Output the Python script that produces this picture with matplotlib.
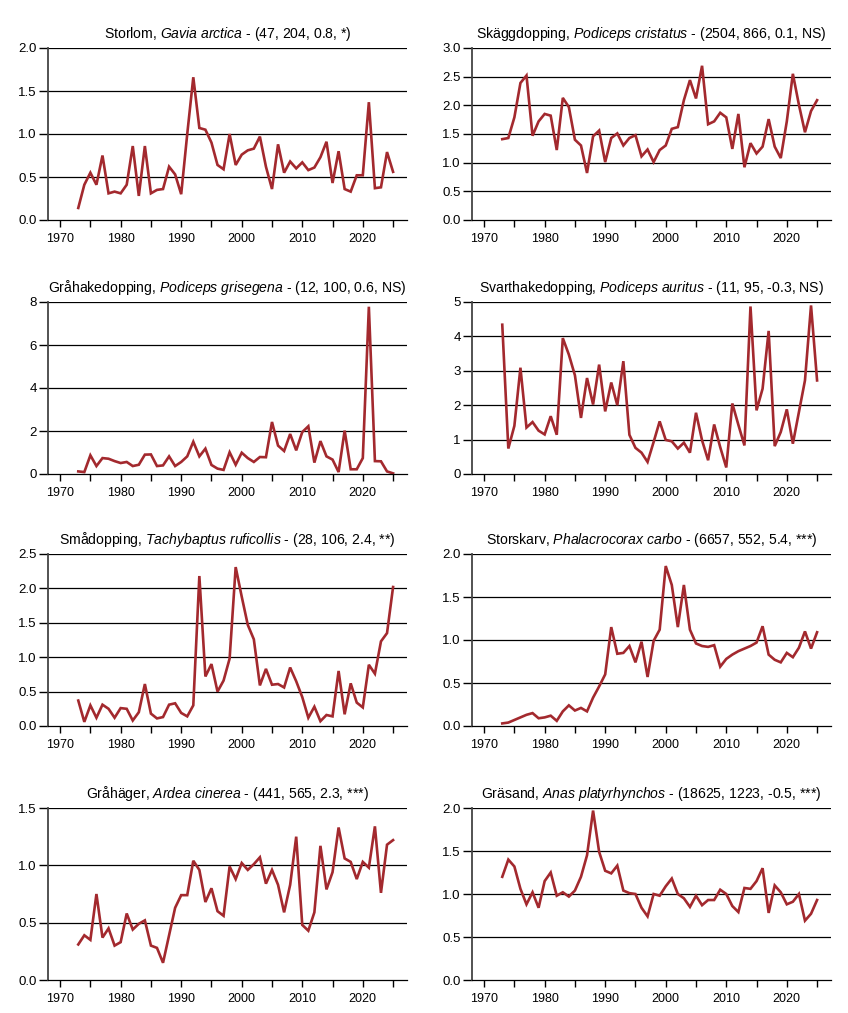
import numpy as np
import matplotlib
matplotlib.use('Agg')
import matplotlib.pyplot as plt

plt.rcParams['font.family'] = ['Liberation Sans', 'DejaVu Sans']
plt.rcParams['mathtext.fontset'] = 'custom'
plt.rcParams['mathtext.rm'] = 'Liberation Sans'
plt.rcParams['mathtext.it'] = 'Liberation Sans:italic'

years = np.arange(1973, 2026)

# index values per species (1973-2025)
storlom = [0.14, 0.41, 0.55, 0.41, 0.75, 0.31, 0.33, 0.31, 0.41, 0.86,
           0.28, 0.86, 0.31, 0.35, 0.36, 0.62, 0.53, 0.30, 1.00, 1.66,
           1.07, 1.05, 0.90, 0.64, 0.59, 1.00, 0.64, 0.76, 0.81, 0.83,
           0.97, 0.62, 0.36, 0.88, 0.55, 0.68, 0.60, 0.67, 0.58, 0.61,
           0.73, 0.91, 0.43, 0.80, 0.36, 0.33, 0.52, 0.52, 1.37, 0.37,
           0.38, 0.79, 0.56]
skaggdopping = [1.41, 1.43, 1.79, 2.39, 2.52, 1.47, 1.72, 1.85, 1.82, 1.22,
                2.13, 1.97, 1.40, 1.30, 0.82, 1.46, 1.56, 1.01, 1.43, 1.51,
                1.30, 1.43, 1.48, 1.11, 1.23, 1.01, 1.22, 1.30, 1.59, 1.62,
                2.09, 2.44, 2.12, 2.69, 1.67, 1.72, 1.87, 1.79, 1.24, 1.85,
                0.92, 1.34, 1.16, 1.28, 1.76, 1.28, 1.08, 1.72, 2.55, 2.01,
                1.53, 1.90, 2.09]
grahakedopping = [0.12, 0.09, 0.87, 0.37, 0.74, 0.71, 0.60, 0.51, 0.56, 0.37,
                  0.43, 0.90, 0.91, 0.37, 0.40, 0.82, 0.37, 0.56, 0.82, 1.50,
                  0.82, 1.18, 0.42, 0.25, 0.19, 1.01, 0.43, 0.99, 0.74, 0.56,
                  0.79, 0.78, 2.42, 1.32, 1.07, 1.86, 1.10, 1.95, 2.22, 0.53,
                  1.53, 0.82, 0.67, 0.09, 2.02, 0.22, 0.22, 0.74, 7.78, 0.60,
                  0.59, 0.12, 0.03]
svarthakedopping = [4.34, 0.74, 1.40, 3.09, 1.35, 1.51, 1.26, 1.15, 1.68, 1.14,
                    3.95, 3.47, 2.87, 1.63, 2.79, 2.02, 3.18, 1.82, 2.66, 2.00,
                    3.28, 1.14, 0.76, 0.62, 0.35, 0.93, 1.53, 0.99, 0.95, 0.74,
                    0.91, 0.62, 1.78, 0.98, 0.40, 1.44, 0.78, 0.19, 2.05, 1.43,
                    0.83, 4.87, 1.85, 2.48, 4.16, 0.81, 1.22, 1.88, 0.88, 1.80,
                    2.72, 4.90, 2.72]
smadopping = [0.37, 0.06, 0.30, 0.12, 0.31, 0.25, 0.12, 0.26, 0.25, 0.08,
              0.20, 0.61, 0.18, 0.11, 0.13, 0.31, 0.33, 0.19, 0.14, 0.30,
              2.18, 0.72, 0.90, 0.50, 0.66, 0.98, 2.31, 1.88, 1.47, 1.26,
              0.59, 0.83, 0.60, 0.61, 0.56, 0.85, 0.65, 0.42, 0.12, 0.28,
              0.07, 0.16, 0.14, 0.80, 0.17, 0.62, 0.34, 0.27, 0.89, 0.76,
              1.23, 1.35, 2.02]
storskarv = [0.03, 0.04, 0.07, 0.10, 0.13, 0.15, 0.09, 0.10, 0.12, 0.06,
             0.17, 0.24, 0.18, 0.21, 0.17, 0.33, 0.46, 0.60, 1.15, 0.84,
             0.85, 0.93, 0.74, 0.98, 0.57, 0.99, 1.12, 1.86, 1.64, 1.15,
             1.64, 1.12, 0.96, 0.93, 0.92, 0.94, 0.69, 0.78, 0.83, 0.87,
             0.90, 0.93, 0.97, 1.16, 0.83, 0.77, 0.74, 0.85, 0.80, 0.91,
             1.10, 0.90, 1.09]
grahager = [0.31, 0.39, 0.35, 0.75, 0.37, 0.45, 0.30, 0.33, 0.58, 0.44,
            0.49, 0.52, 0.30, 0.28, 0.15, 0.39, 0.63, 0.74, 0.74, 1.04,
            0.96, 0.68, 0.80, 0.60, 0.56, 0.99, 0.88, 1.02, 0.96, 1.01,
            1.07, 0.84, 0.96, 0.83, 0.59, 0.83, 1.25, 0.48, 0.43, 0.59,
            1.17, 0.79, 0.94, 1.33, 1.06, 1.03, 0.88, 1.03, 0.98, 1.34,
            0.76, 1.18, 1.22]
grasand = [1.20, 1.40, 1.32, 1.06, 0.88, 1.02, 0.84, 1.15, 1.25, 0.98,
           1.02, 0.97, 1.04, 1.20, 1.45, 1.97, 1.49, 1.27, 1.24, 1.33,
           1.04, 1.01, 1.00, 0.84, 0.74, 1.00, 0.98, 1.09, 1.18, 1.00,
           0.95, 0.85, 0.98, 0.87, 0.93, 0.93, 1.05, 1.00, 0.86, 0.79,
           1.07, 1.06, 1.15, 1.30, 0.78, 1.10, 1.02, 0.88, 0.91, 1.00,
           0.69, 0.77, 0.93]

titles = [
    r'Storlom, $\mathit{Gavia\ arctica}$ - (47, 204, 0.8, *)',
    r'Skäggdopping, $\mathit{Podiceps\ cristatus}$ - (2504, 866, 0.1, NS)',
    r'Gråhakedopping, $\mathit{Podiceps\ grisegena}$ - (12, 100, 0.6, NS)',
    r'Svarthakedopping, $\mathit{Podiceps\ auritus}$ - (11, 95, -0.3, NS)',
    r'Smådopping, $\mathit{Tachybaptus\ ruficollis}$ - (28, 106, 2.4, **)',
    r'Storskarv, $\mathit{Phalacrocorax\ carbo}$ - (6657, 552, 5.4, ***)',
    r'Gråhäger, $\mathit{Ardea\ cinerea}$ - (441, 565, 2.3, ***)',
    r'Gräsand, $\mathit{Anas\ platyrhynchos}$ - (18625, 1223, -0.5, ***)',
]
series = [storlom, skaggdopping, grahakedopping, svarthakedopping,
          smadopping, storskarv, grahager, grasand]
yticks = [
    [0, 0.5, 1.0, 1.5, 2.0],
    [0, 0.5, 1.0, 1.5, 2.0, 2.5, 3.0],
    [0, 2, 4, 6, 8],
    [0, 1, 2, 3, 4, 5],
    [0, 0.5, 1.0, 1.5, 2.0, 2.5],
    [0, 0.5, 1.0, 1.5, 2.0],
    [0, 0.5, 1.0, 1.5],
    [0, 0.5, 1.0, 1.5, 2.0],
]
yfmt = ['%.1f', '%.1f', '%d', '%d', '%.1f', '%.1f', '%.1f', '%.1f']

W, H = 848, 1013
fig = plt.figure(figsize=(W / 100, H / 100), dpi=100)

lefts = [48, 472]
bottoms = [220, 474, 726, 980]
aw, ah = 359, 172

for i, (vals, title) in enumerate(zip(series, titles)):
    r, c = divmod(i, 2)
    ax = fig.add_axes([lefts[c] / W, 1 - bottoms[r] / H, aw / W, ah / H])
    ax.plot(years, vals, color='#a3292e', lw=1.9, solid_joinstyle='miter')
    ax.set_xlim(1968, 2027.3)
    ax.set_ylim(0, yticks[i][-1])
    ax.set_yticks(yticks[i])
    ax.set_yticklabels([yfmt[i] % v for v in yticks[i]])
    xt = np.arange(1970, 2026, 5)
    ax.set_xticks(xt)
    ax.set_xticklabels([str(x) if x % 10 == 0 else '' for x in xt])
    for v in yticks[i][1:]:
        ax.axhline(v, color='black', lw=0.9, zorder=0)
    for s in ['top', 'right']:
        ax.spines[s].set_visible(False)
    ax.spines['left'].set_color('#444444')
    ax.spines['left'].set_linewidth(1.3)
    ax.spines['bottom'].set_linewidth(0.9)
    ax.tick_params(axis='both', labelsize=9, width=1.0, colors='black')
    ax.tick_params(axis='y', length=6.5, pad=1.5, labelsize=9.5)
    ax.tick_params(axis='x', length=5, pad=4)
    ax.set_title(title, fontsize=10.1, pad=7)

fig.savefig('out.png', dpi=100)
